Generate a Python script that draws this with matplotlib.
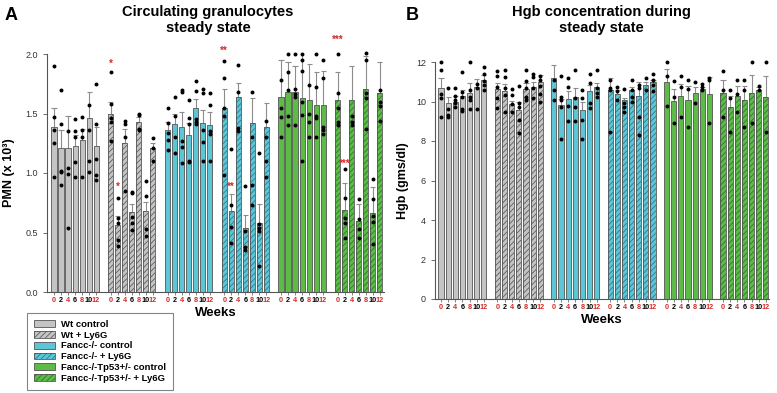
import matplotlib
matplotlib.use("Agg")
import matplotlib.pyplot as plt
from matplotlib.patches import Patch
from matplotlib.legend_handler import HandlerTuple

plt.rcParams['font.family'] = ['Liberation Sans', 'DejaVu Sans']
plt.rcParams['hatch.linewidth'] = 0.6

# ---------------- data ----------------
groups = ["Wt control", "Wt + Ly6G", "Fancc-/- control", "Fancc-/- + Ly6G",
          "Fancc-/-Tp53+/- control", "Fancc-/-Tp53+/- + Ly6G"]
weeks = ["0", "2", "4", "6", "8", "10", "12"]

pmn_mean = [
    [1.39, 1.21, 1.21, 1.23, 1.28, 1.46, 1.23],
    [1.50, 0.56, 1.25, 0.67, 1.43, 0.68, 1.21],
    [1.36, 1.41, 1.39, 1.32, 1.55, 1.42, 1.40],
    [1.55, 0.68, 1.64, 0.54, 1.42, 0.58, 1.39],
    [1.64, 1.68, 1.68, 1.63, 1.61, 1.57, 1.57],
    [1.61, 0.69, 1.61, 0.60, 1.71, 0.66, 1.67],
]
pmn_err_top = [
    [1.55, 1.36, 1.48, 1.32, 1.37, 1.68, 1.39],
    [1.60, 0.64, 1.37, 0.74, 1.47, 0.76, 1.25],
    [1.43, 1.50, 1.51, 1.42, 1.62, 1.53, 1.51],
    [1.71, 0.82, 1.76, 0.65, 1.63, 0.74, 1.59],
    [1.95, 1.93, 1.90, 2.01, 1.92, 1.85, 1.86],
    [1.85, 0.92, 1.90, 0.74, 1.98, 0.88, 1.93],
]
pmn_dots = [
    [[1.90, 1.47, 1.36, 1.25, 0.97], [1.70, 1.41, 1.02, 1.01, 0.90], [1.35, 1.04, 0.99, 0.54],
     [1.45, 1.35, 1.30, 1.09, 0.97], [1.47, 1.36, 1.30, 0.97], [1.57, 1.36, 1.10, 1.01],
     [1.75, 1.41, 1.12, 0.98, 0.94]],
    [[1.85, 1.58, 1.46, 1.43, 1.27], [0.79, 0.62, 0.58, 0.44, 0.39], [1.44, 1.41, 1.30, 0.85],
     [0.84, 0.83, 0.63, 0.58, 0.52], [1.50, 1.49, 1.37, 1.36], [0.93, 0.81, 0.53, 0.47],
     [1.29, 1.21, 1.10]],
    [[1.55, 1.42, 1.34, 1.28, 1.19], [1.64, 1.48, 1.30, 1.17], [1.70, 1.68, 1.27, 1.22, 1.08],
     [1.61, 1.46, 1.41, 1.10, 1.09], [1.77, 1.69, 1.45, 1.43, 1.41], [1.71, 1.67, 1.36, 1.26, 1.10],
     [1.67, 1.57, 1.35, 1.33, 1.10]],
    [[1.94, 1.80, 1.55, 1.48, 0.98], [1.20, 0.73, 0.55, 0.41], [1.91, 1.68, 1.38, 1.35],
     [0.89, 0.51, 0.38, 0.35], [1.68, 1.30, 0.90, 0.73], [1.17, 0.57, 0.54, 0.51, 0.22],
     [1.44, 1.30, 1.10, 0.97]],
    [[1.78, 1.55, 1.47, 1.30], [2.00, 1.85, 1.70, 1.48, 1.40], [2.00, 1.71, 1.66, 1.64, 1.40],
     [2.00, 1.95, 1.86, 1.60, 1.49, 1.10], [1.74, 1.50, 1.43, 1.30], [2.00, 1.72, 1.48, 1.46, 1.30],
     [1.95, 1.80, 1.39, 1.36, 1.33]],
    [[2.00, 1.67, 1.55, 1.43, 1.40], [1.03, 0.79, 0.62, 0.58, 0.45], [1.48, 1.43, 1.40],
     [0.78, 0.61, 0.53, 0.45], [2.01, 1.95, 1.67, 1.63, 1.37], [0.95, 0.78, 0.64, 0.59, 0.40],
     [1.70, 1.60, 1.56, 1.44]],
]
# significance marks: (group, week index, text, height)
pmn_stars = [(1, 0, "*", 1.92), (1, 1, "*", 0.88), (3, 0, "**", 2.03),
             (3, 1, "**", 0.88), (5, 0, "***", 2.12), (5, 1, "***", 1.08)]

hgb_mean = [
    [10.68, 9.92, 10.00, 10.29, 10.42, 10.72, 11.10],
    [10.63, 10.54, 9.86, 9.58, 10.64, 10.71, 11.01],
    [11.18, 9.83, 10.12, 10.22, 9.58, 10.51, 10.73],
    [10.59, 10.39, 10.08, 10.56, 10.30, 10.84, 10.98],
    [11.00, 10.03, 10.29, 10.08, 10.42, 10.63, 10.39],
    [10.42, 9.71, 10.30, 10.08, 10.42, 10.59, 10.25],
]
hgb_err_top = [
    [11.18, 10.22, 10.29, 10.59, 10.93, 11.13, 11.35],
    [10.95, 10.90, 10.05, 9.98, 10.93, 11.01, 11.35],
    [11.86, 10.14, 10.51, 10.68, 10.00, 10.84, 10.93],
    [11.18, 10.59, 10.17, 10.73, 11.01, 11.01, 11.10],
    [11.64, 10.63, 10.90, 10.79, 10.73, 10.73, 11.23],
    [11.10, 10.30, 10.76, 10.79, 11.35, 10.73, 11.27],
]
hgb_dots = [
    [[12.0, 11.6, 10.4, 10.2, 9.2], [10.7, 9.6, 9.3, 9.2], [10.7, 10.3, 10.1, 9.9, 9.7],
     [11.5, 10.5, 10.25, 9.6, 9.5], [12.0, 10.6, 10.25, 10.1, 9.6], [10.9, 10.7, 9.6],
     [11.77, 11.4, 11.05, 10.85, 10.6]],
    [[11.52, 11.27, 10.73, 10.17, 9.66], [11.6, 11.22, 10.68, 10.34, 9.49], [10.63, 10.34, 9.86, 9.49],
     [10.79, 9.92, 9.71, 9.07, 8.4], [11.57, 11.05, 10.68, 10.25, 10.08], [11.4, 11.23, 10.68, 10.17],
     [11.3, 11.1, 10.76, 10.37, 10.0]],
    [[11.1, 10.59, 10.08], [11.27, 10.25, 10.08, 9.71, 8.09], [11.18, 10.73, 9.75, 8.99],
     [11.6, 10.17, 9.71, 8.99], [10.59, 10.2, 9.07, 8.09], [11.4, 10.93, 9.92, 9.66],
     [11.57, 10.68, 10.42, 10.25]],
    [[11.1, 10.68, 10.59, 8.48], [10.73, 10.51, 10.08], [10.63, 9.92, 9.71, 9.49],
     [11.1, 10.59, 10.25, 10.0], [10.84, 10.68, 9.21, 8.28], [11.18, 10.59],
     [11.4, 11.1, 10.84, 10.51]],
    [[12.0, 11.27, 9.78], [11.05, 10.22, 8.9], [11.3, 10.73, 9.21],
     [11.1, 10.63, 8.7], [11.01, 9.92], [10.9, 10.75, 10.6], [11.18, 11.1, 8.9]],
    [[11.52, 10.59, 9.21], [10.59, 10.17, 8.48], [11.1, 10.39, 9.49],
     [11.1, 10.56, 8.7], [12.0, 8.9], [10.79, 10.59], [12.0, 8.48]],
]

# ---------------- styles ----------------
face_colors = ["#c4c4c4", "#c4c4c4", "#5cc6d6", "#5cc6d6", "#5dbb48", "#5dbb48"]
hatch_colors = [None, "#5e5e5e", None, "#2b7c90", None, "#2c7a26"]
edge_col = "#555555"
err_col = "#8c8c8c"
red = "#d42a2a"
week_colors = [red if i % 2 == 0 else "black" for i in range(len(weeks))]
week_font = ['Liberation Sans Narrow', 'Liberation Sans', 'DejaVu Sans']


def draw_panel(ax, means, errs, dots, step, stars=None):
    xs_all, labels_all, colors_all = [], [], []
    w = 0.72
    for g in range(len(groups)):
        xs = [g * step + i for i in range(len(weeks))]
        if hatch_colors[g] is None:
            ax.bar(xs, means[g], width=w, color=face_colors[g], edgecolor=edge_col,
                   linewidth=0.6, zorder=2)
        else:
            ax.bar(xs, means[g], width=w, color=face_colors[g], edgecolor=hatch_colors[g],
                   hatch="//////", linewidth=0, zorder=2)
            ax.bar(xs, means[g], width=w, fill=False, edgecolor=edge_col,
                   linewidth=0.6, zorder=2.5)
        ax.vlines(xs, means[g], errs[g], color=err_col, linewidth=0.8, zorder=1.5)
        ax.hlines(errs[g], [x - w / 2 for x in xs], [x + w / 2 for x in xs],
                  color=err_col, linewidth=0.8, zorder=1.5)
        for i, x in enumerate(xs):
            ax.scatter([x] * len(dots[g][i]), dots[g][i], s=8, color="black",
                       zorder=4, clip_on=False, linewidths=0)
        xs_all += xs
        labels_all += weeks
        colors_all += week_colors
    ax.set_xticks(xs_all)
    ax.set_xticklabels(labels_all, fontsize=5.2, fontweight="bold", family=week_font)
    ax.tick_params(axis="x", length=2, width=0.5, pad=1.5, colors=edge_col)
    for t, c in zip(ax.get_xticklabels(), colors_all):
        t.set_color(c)
    ax.tick_params(axis="y", length=3, width=0.6, labelsize=6.5, colors=edge_col)
    for s in ["top", "right"]:
        ax.spines[s].set_visible(False)
    for s in ["left", "bottom"]:
        ax.spines[s].set_color(edge_col)
        ax.spines[s].set_linewidth(0.8)
    if stars:
        for g, i, txt, y in stars:
            ax.text(g * step + i, y, txt, color=red, fontsize=7, ha="center",
                    va="center", fontweight="bold")
    ax.set_xlabel("Weeks", fontsize=9.5, fontweight="bold", labelpad=2)


fig = plt.figure(figsize=(7.77, 3.93), dpi=100)
axA = fig.add_axes([47 / 777, 1 - 292 / 393, 337 / 777, 238 / 393])
axB = fig.add_axes([435 / 777, 1 - 299 / 393, 334 / 777, 237 / 393])

stepA = 8.1
draw_panel(axA, pmn_mean, pmn_err_top, pmn_dots, stepA, pmn_stars)
axA.set_xlim(-1.0, 5 * stepA + 6 + 0.6)
axA.set_ylim(0, 2.0)
axA.set_yticks([0, 0.5, 1.0, 1.5, 2.0])
axA.set_yticklabels(["0.0", "0.5", "1.0", "1.5", "2.0"])
for t in axA.get_yticklabels():
    t.set_color("#333333")
axA.set_ylabel("PMN (x 10³)", fontsize=9, fontweight="bold")
axA.yaxis.set_label_coords(-32 / 337, 0.5)

stepB = 7.9
draw_panel(axB, hgb_mean, hgb_err_top, hgb_dots, stepB)
axB.set_xlim(-0.85, 5 * stepB + 6 + 0.45)
axB.set_ylim(0, 12)
axB.set_yticks(range(0, 13, 2))
for t in axB.get_yticklabels():
    t.set_color("#333333")
axB.set_ylabel("Hgb (gms/dl)", fontsize=9, fontweight="bold")
axB.yaxis.set_label_coords(-26 / 334, 0.5)

fig.text(208 / 777, 1 - 5 / 393, "Circulating granulocytes\nsteady state", ha="center",
         va="top", fontsize=10.5, fontweight="bold", linespacing=1.15)
fig.text(601 / 777, 1 - 5 / 393, "Hgb concentration during\nsteady state", ha="center",
         va="top", fontsize=10.5, fontweight="bold", linespacing=1.15)
fig.text(5 / 777, 1 - 7 / 393, "A", ha="left", va="top", fontsize=13, fontweight="bold")
fig.text(406 / 777, 1 - 7 / 393, "B", ha="left", va="top", fontsize=13, fontweight="bold")

handles = []
for g in range(len(groups)):
    if hatch_colors[g] is None:
        handles.append(Patch(facecolor=face_colors[g], edgecolor=edge_col, linewidth=0.6))
    else:
        handles.append((Patch(facecolor=face_colors[g], edgecolor=hatch_colors[g],
                              hatch="//////", linewidth=0),
                        Patch(fill=False, edgecolor=edge_col, linewidth=0.6)))
leg = fig.legend(handles, groups, loc="upper left", bbox_to_anchor=(27 / 777, 1 - 313 / 393),
                 borderaxespad=0, frameon=True, fancybox=False, edgecolor="#666666",
                 prop={"size": 6.8, "weight": "bold"}, handlelength=2.3, handleheight=0.75,
                 labelspacing=0.2, borderpad=0.7, handletextpad=0.6,
                 handler_map={tuple: HandlerTuple(ndivide=1, pad=0)})
leg.get_frame().set_linewidth(0.8)

fig.savefig("out.png", dpi=100)
